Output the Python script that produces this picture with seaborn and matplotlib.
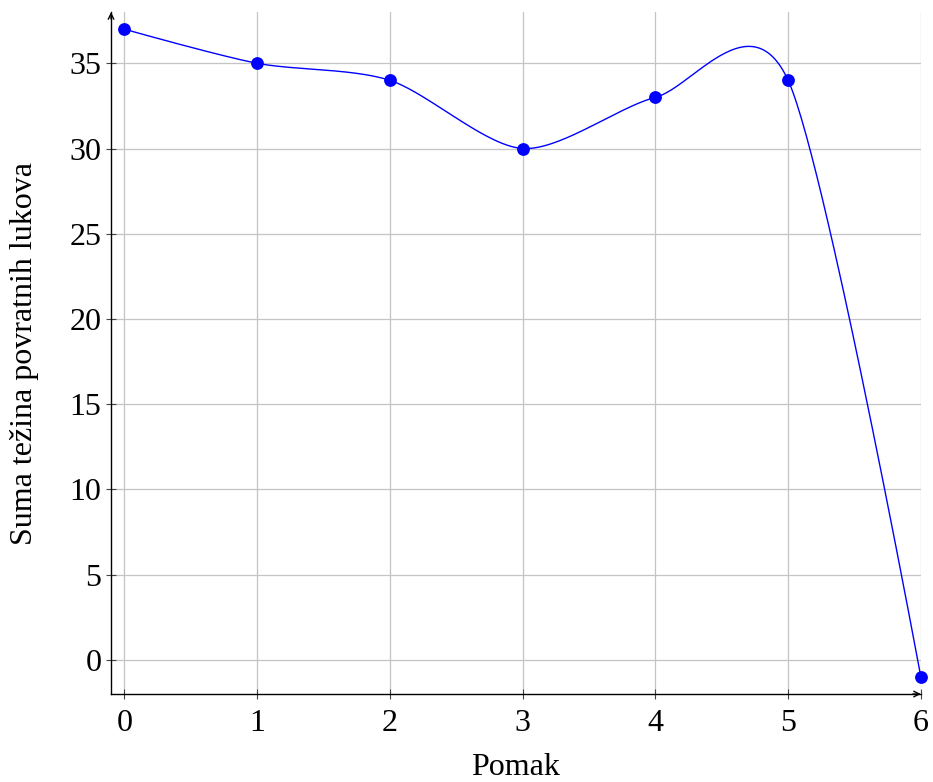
import matplotlib
matplotlib.use("Agg")
import matplotlib.pyplot as plt
import seaborn as sns
import numpy as np
import pandas as pd

# data
pomak = [0, 1, 2, 3, 4, 5, 6]
suma = [37, 35, 34, 30, 33, 34, -1]
yticks = [0, 5, 10, 15, 20, 25, 30, 35]

sns.set_style("ticks")
plt.rcParams['font.family'] = ['Liberation Serif', 'DejaVu Serif']
plt.rcParams['text.color'] = 'black'
plt.rcParams['axes.labelcolor'] = 'black'
plt.rcParams['xtick.color'] = 'black'
plt.rcParams['ytick.color'] = 'black'

fig = plt.figure(figsize=(9.33, 7.82), dpi=100)
ax = fig.add_axes([0.119, 0.1125, 0.868, 0.872])
xmin, xmax, ymin, ymax = -0.1, 6.0, -2.0, 38.0


def smooth_curve(xs, ys, k=0.14, n=60):
    # tikz-style "smooth" curve: cubic bezier segments, computed in screen units
    sx = 0.868 * 933 / (xmax - xmin)
    sy = 0.872 * 782 / (ymax - ymin)
    P = np.column_stack([np.array(xs) * sx, np.array(ys) * sy])
    m = len(P)
    out = []
    for i in range(m - 1):
        a, b = P[i], P[i + 1]
        c1 = a + k * (P[i + 1] - P[i - 1]) if i > 0 else a
        c2 = b - k * (P[i + 2] - P[i]) if i + 2 < m else b
        t = np.linspace(0, 1, n)[:, None]
        seg = (1 - t) ** 3 * a + 3 * t * (1 - t) ** 2 * c1 + 3 * t ** 2 * (1 - t) * c2 + t ** 3 * b
        out.append(seg if i == 0 else seg[1:])
    out = np.vstack(out)
    return out[:, 0] / sx, out[:, 1] / sy


cx, cy = smooth_curve(pomak, suma)
curve = pd.DataFrame({"x": cx, "y": cy})
pts = pd.DataFrame({"Pomak": pomak, "Suma": suma})

ax.grid(True, color="#c4c4c4", linewidth=0.9)
ax.set_axisbelow(True)
sns.lineplot(data=curve, x="x", y="y", sort=False, estimator=None,
             color="blue", linewidth=1.0, ax=ax, zorder=3)
sns.scatterplot(data=pts, x="Pomak", y="Suma", color="blue", s=85,
                edgecolor="blue", linewidth=0, ax=ax, zorder=4, clip_on=False)

ax.set_xlim(xmin, xmax)
ax.set_ylim(ymin, ymax)
ax.set_xticks(pomak)
ax.set_yticks(yticks)
ax.tick_params(labelsize=23, direction="inout", length=7, width=0.8, color="#444444")
ax.tick_params(axis="x", pad=7)
ax.set_xlabel("Pomak", fontsize=23, labelpad=11)
ax.set_ylabel("Suma težina povratnih lukova", fontsize=23, labelpad=22)

for s in ["top", "right"]:
    ax.spines[s].set_visible(False)
for s in ["left", "bottom"]:
    ax.spines[s].set_linewidth(1.0)
    ax.spines[s].set_color("black")
ax.annotate("", xy=(1.0, 0), xytext=(0.99, 0), xycoords="axes fraction",
            arrowprops=dict(arrowstyle="->", color="black", lw=1.0, shrinkA=0, shrinkB=0))
ax.annotate("", xy=(0, 1.0), xytext=(0, 0.99), xycoords="axes fraction",
            arrowprops=dict(arrowstyle="->", color="black", lw=1.0, shrinkA=0, shrinkB=0))

fig.savefig("out.png", dpi=100)
